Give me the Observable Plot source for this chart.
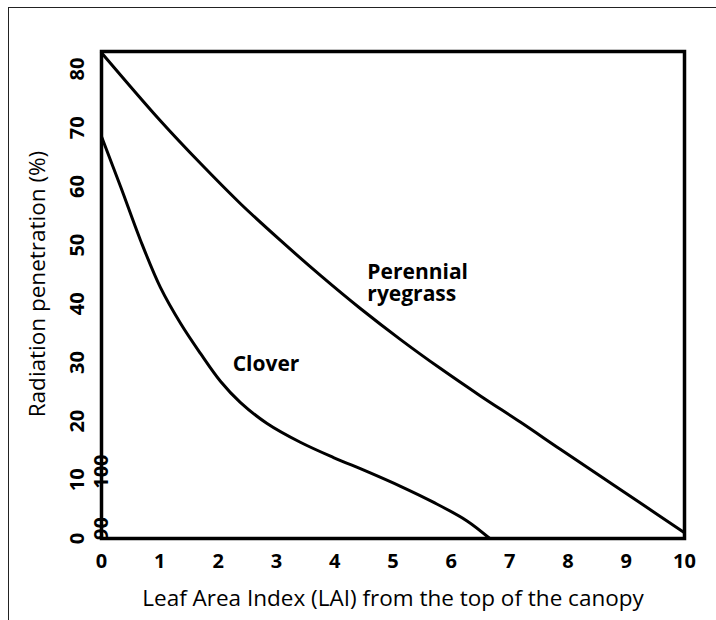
<!DOCTYPE html>
<html>
<head>
<meta charset="utf-8">
<script src="https://cdn.jsdelivr.net/npm/d3@7"></script>
<script src="https://cdn.jsdelivr.net/npm/@observablehq/plot@0.6"></script>
<style>
html, body { margin: 0; padding: 0; background: #fff; }
#wrap { position: relative; width: 716px; height: 620px; overflow: hidden; }
#wrap svg { position: absolute; left: 0; top: 0; }
#border { position: absolute; left: 8px; top: 7px; width: 760px; height: 700px;
  border-top: 1.5px solid #222; border-left: 1.5px solid #222; pointer-events: none; }
</style>
</head>
<body>
<div id="wrap"><div id="border"></div></div>
<script>
// Clover curve (LAI, radiation penetration %)
const cloverLAI = [0, 0.33, 0.67, 1.01, 1.36, 1.70, 2.04, 2.38, 2.84, 3.41, 3.98, 4.56, 5.13, 5.69, 6.27, 6.66];
const cloverPen = [68.5, 59.9, 50.8, 42.8, 36.6, 31.5, 26.8, 23.2, 19.6, 16.4, 13.8, 11.4, 8.9, 6.2, 3.0, 0];

// Perennial ryegrass curve
const ryegrassLAI = [0, 1.01, 1.70, 2.38, 3.07, 3.76, 4.44, 5.13, 5.81, 6.50, 7.19, 7.87, 8.56, 9.25, 10];
const ryegrassPen = [82.8, 71.2, 63.9, 57.1, 50.8, 44.8, 39.2, 33.9, 29.0, 24.3, 19.8, 15.2, 10.6, 6.0, 1.0];

// Axis ticks and titles
const xTicks = [0, 1, 2, 3, 4, 5, 6, 7, 8, 9, 10];
const yTicks = [0, 10, 20, 30, 40, 50, 60, 70, 80];
const xTitle = "Leaf Area Index (LAI) from the top of the canopy";
const yTitle = "Radiation penetration (%)";

// In-plot series labels
const seriesLabelText = ["Perennial\nryegrass", "Clover"];
const seriesLabelLAI = [4.56, 2.25];
const seriesLabelPen = [43.6, 29.7];

// Stray overlapping tick labels visible on the left axis line
const strayText = ["100", "90"];
const strayLAI = [0, 0];
const strayPen = [11.4, 1.7];

const toRows = (xs, ys) => xs.map((x, i) => ({x, y: ys[i]}));
const clover = toRows(cloverLAI, cloverPen);
const ryegrass = toRows(ryegrassLAI, ryegrassPen);
const seriesLabels = seriesLabelText.map((t, i) => ({t, x: seriesLabelLAI[i], y: seriesLabelPen[i]}));
const stray = strayText.map((t, i) => ({t, x: strayLAI[i], y: strayPen[i]}));

const font = "'Open Sans', 'Noto Sans', sans-serif";

const chart = Plot.plot({
  width: 716,
  height: 620,
  marginLeft: 101,
  marginRight: 32,
  marginTop: 51,
  marginBottom: 82,
  style: { fontFamily: font, background: "transparent", color: "#000", overflow: "visible" },
  x: { domain: [0, 10] },
  y: { domain: [0, 83] },
  marks: [
    Plot.axisX({ ticks: xTicks, tickSize: 0, tickPadding: 15, fontSize: 20, fontWeight: "bold", label: null, tickFormat: d => String(d) }),
    Plot.axisY({ ticks: yTicks, tickSize: 0, tickRotate: -90, tickPadding: 18, fontSize: 20, fontWeight: "bold", label: null, tickFormat: d => String(d) }),
    Plot.text([xTitle], { frameAnchor: "bottom", dy: 60, fontSize: 22.5, textAnchor: "middle", lineAnchor: "middle", fill: "#000" }),
    Plot.text([yTitle], { frameAnchor: "left", dx: -64, dy: -11, rotate: -90, fontSize: 22.5, textAnchor: "middle", lineAnchor: "middle", fill: "#000" }),
    Plot.line(clover, { x: "x", y: "y", stroke: "#000", strokeWidth: 3, curve: "catmull-rom" }),
    Plot.line(ryegrass, { x: "x", y: "y", stroke: "#000", strokeWidth: 3, curve: "catmull-rom" }),
    Plot.frame({ stroke: "#000", strokeWidth: 3.5 }),
    Plot.text(seriesLabels, { x: "x", y: "y", text: "t", textAnchor: "start", lineAnchor: "middle", lineHeight: 1.05, fontSize: 21, fontWeight: "bold", fill: "#000" }),
    Plot.text(stray, { x: "x", y: "y", text: "t", rotate: -90, textAnchor: "middle", lineAnchor: "middle", fontSize: 20, fontWeight: "bold", fill: "#000" })
  ]
});

document.getElementById("wrap").prepend(chart);
</script>
</body>
</html>
